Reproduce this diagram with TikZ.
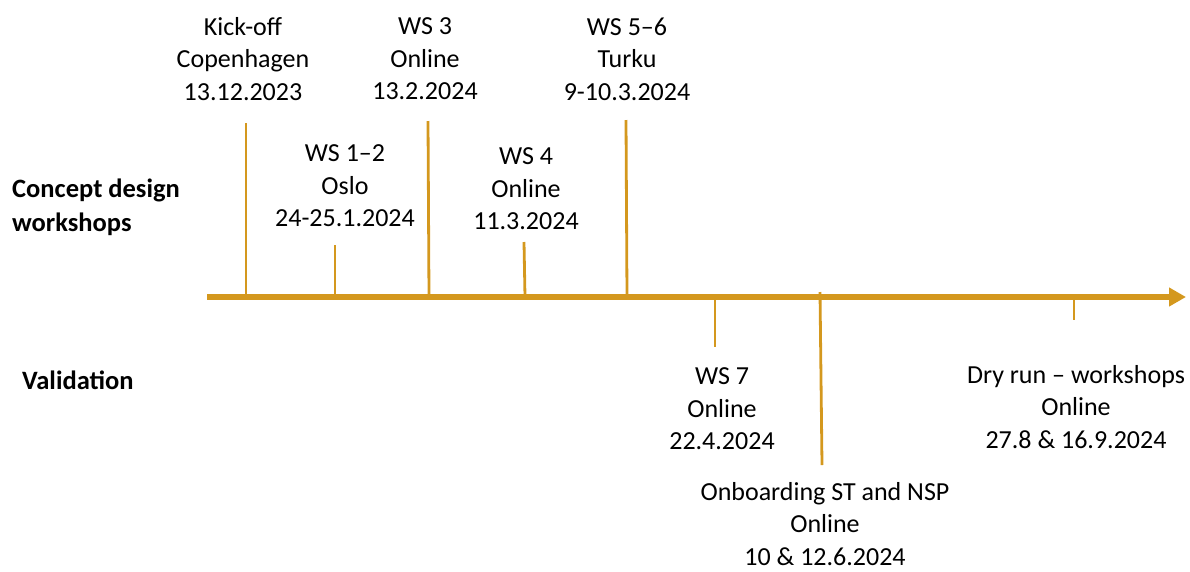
\documentclass[tikz,border=0pt]{standalone}
\usepackage{fontspec}
\setmainfont{Carlito}
\usetikzlibrary{arrows.meta}
\definecolor{gold}{RGB}{212,152,30}
\begin{document}
\begin{tikzpicture}[x=1pt,y=-1pt,
  axis/.style={draw=gold,line width=5.5pt,-{Triangle[length=17pt,width=18pt]}},
  tick/.style={draw=gold,line width=2.8pt},
  evt/.style={align=center,font=\fontsize{26}{32.5}\selectfont,inner sep=0pt},
  phase/.style={align=left,font=\fontsize{26.5}{34}\selectfont\bfseries,inner sep=0pt,anchor=west}]
\useasboundingbox (0,0) rectangle (1190,571);

% timeline axis
\coordinate (a0) at (207,297);
\coordinate (a1) at (1186,297);
\draw[axis] (a0) -- (a1);

% tick end points on the axis and free ends
\coordinate (k0) at (246,297);  \coordinate (k1) at (246,123);
\coordinate (w1) at (335,297);  \coordinate (w1e) at (335,245);
\coordinate (w3) at (429,297);  \coordinate (w3e) at (428,121);
\coordinate (w4) at (525,297);  \coordinate (w4e) at (524,242);
\coordinate (w5) at (627,297);  \coordinate (w5e) at (626,120);
\coordinate (w7) at (715,297);  \coordinate (w7e) at (715,347);
\coordinate (ob) at (820,292);  \coordinate (obe) at (822,465);
\coordinate (dr) at (1074,297); \coordinate (dre) at (1074,320);

\draw[tick] (k0) -- (k1);
\draw[tick] (w1) -- (w1e);
\draw[tick] (w3) -- (w3e);
\draw[tick] (w4) -- (w4e);
\draw[tick] (w5) -- (w5e);
\draw[tick] (w7) -- (w7e);
\draw[tick] (ob) -- (obe);
\draw[tick] (dr) -- (dre);

% phase labels
\node[phase] (cd) at (12,207) {Concept design\\workshops};
\node[phase] (val) at (22,380) {Validation};

% events
\node[evt] (kick) at (243,59) {Kick-off\\Copenhagen\\13.12.2023};
\node[evt] (ws12) at (345,186) {WS 1–2\\Oslo\\24-25.1.2024};
\node[evt] (ws3) at (425,59) {WS 3\\Online\\13.2.2024};
\node[evt] (ws4) at (526,189) {WS 4\\Online\\11.3.2024};
\node[evt] (ws56) at (627,59) {WS 5–6\\Turku\\9-10.3.2024};
\node[evt] (ws7) at (722,409) {WS 7\\Online\\22.4.2024};
\node[evt] (onb) at (825,524) {Onboarding ST and NSP\\Online\\10 \& 12.6.2024};
\node[evt] (dry) at (1076,407) {Dry run – workshops\\Online\\27.8 \& 16.9.2024};
\end{tikzpicture}
\end{document}
